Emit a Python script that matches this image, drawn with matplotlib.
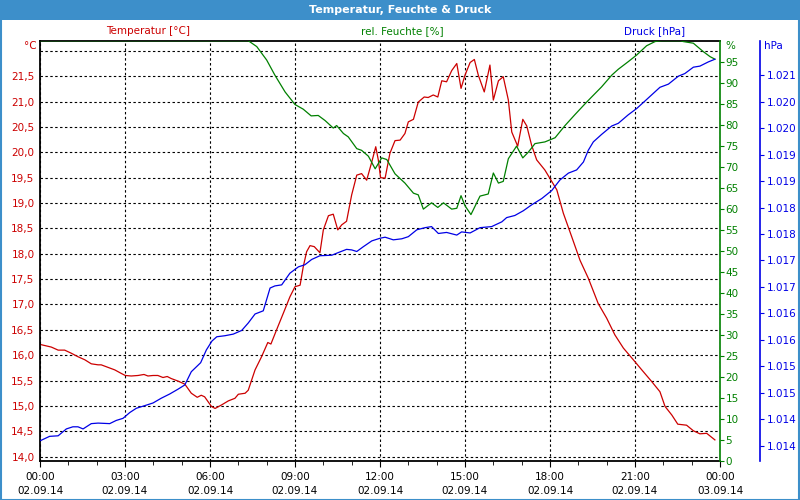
import matplotlib
matplotlib.use("Agg")
import matplotlib.pyplot as plt
import numpy as np
from matplotlib.ticker import FixedLocator, MultipleLocator, FuncFormatter
from matplotlib.patches import Rectangle

# Stunden seit 02.09.14 00:00
temp_h = [0.02, 0.40, 0.64, 0.87, 1.10, 1.34, 1.58, 1.81, 2.05, 2.16, 2.40, 2.64, 2.87, 3.01,
          3.22, 3.46, 3.67, 3.81, 3.99, 4.16, 4.34, 4.49, 4.63, 4.87, 5.11, 5.34, 5.55, 5.69,
          5.81, 6.05, 6.18, 6.41, 6.65, 6.88, 7.00, 7.24, 7.35, 7.59, 7.82, 8.04, 8.15, 8.35,
          8.59, 8.82, 9.00, 9.18, 9.29, 9.41, 9.53, 9.68, 9.88, 10.00, 10.18, 10.35, 10.51,
          10.65, 10.82, 11.00, 11.18, 11.35, 11.53, 11.71, 11.85, 11.94, 12.02, 12.18, 12.35,
          12.53, 12.71, 12.88, 13.00, 13.18, 13.35, 13.56, 13.70, 13.88, 14.04, 14.18, 14.35,
          14.53, 14.71, 14.86, 15.00, 15.18, 15.33, 15.47, 15.68, 15.88, 16.00, 16.18, 16.35,
          16.53, 16.65, 16.86, 17.04, 17.18, 17.35, 17.53, 17.82, 18.24, 18.47, 18.77, 19.06,
          19.35, 19.70, 20.00, 20.29, 20.59, 20.94, 21.24, 21.59, 21.88, 22.06, 22.30, 22.51,
          22.82, 23.06, 23.29, 23.53, 23.82]
temp_c = [16.21, 16.16, 16.10, 16.10, 16.04, 15.97, 15.91, 15.83, 15.81, 15.81, 15.76, 15.71,
          15.64, 15.60, 15.59, 15.60, 15.62, 15.59, 15.60, 15.60, 15.56, 15.58, 15.54, 15.49,
          15.43, 15.25, 15.17, 15.21, 15.18, 14.99, 14.95, 15.02, 15.10, 15.15, 15.23, 15.25,
          15.31, 15.71, 15.97, 16.25, 16.22, 16.50, 16.83, 17.15, 17.35, 17.38, 17.74, 18.04,
          18.16, 18.14, 18.02, 18.47, 18.75, 18.78, 18.47, 18.57, 18.64, 19.16, 19.55, 19.58,
          19.45, 19.81, 20.11, 19.85, 19.50, 19.49, 19.98, 20.23, 20.24, 20.37, 20.60, 20.65,
          20.99, 21.09, 21.08, 21.13, 21.09, 21.41, 21.39, 21.61, 21.75, 21.26, 21.52, 21.77,
          21.83, 21.52, 21.19, 21.72, 21.03, 21.41, 21.49, 21.03, 20.40, 20.12, 20.65, 20.52,
          20.14, 19.85, 19.65, 19.26, 18.80, 18.33, 17.87, 17.52, 17.02, 16.73, 16.40, 16.14,
          15.91, 15.71, 15.48, 15.28, 14.99, 14.82, 14.64, 14.62, 14.51, 14.45, 14.46, 14.33]

hum_h = [0.02, 7.35, 7.65, 8.00, 8.29, 8.65, 9.00, 9.29, 9.57, 9.82, 10.06, 10.35, 10.47,
         10.71, 10.88, 11.18, 11.35, 11.59, 11.83, 12.06, 12.24, 12.53, 12.88, 13.18, 13.35,
         13.53, 13.82, 14.04, 14.24, 14.53, 14.71, 14.86, 15.00, 15.21, 15.53, 15.82, 16.00,
         16.18, 16.35, 16.53, 16.82, 17.04, 17.24, 17.47, 17.82, 18.18, 18.53, 18.88, 19.24,
         19.47, 19.82, 20.18, 20.41, 20.76, 21.06, 21.41, 21.71, 21.94, 22.60, 22.70, 23.06,
         23.41, 23.65, 23.82]
hum_pct = [100, 100, 98.6, 95.4, 91.8, 87.8, 84.8, 83.7, 82.1, 82.2, 81.0, 79.2, 79.8,
           77.9, 77.1, 74.3, 73.9, 72.5, 69.5, 72.1, 71.7, 68.3, 66.1, 63.7, 63.3,
           59.9, 61.4, 60.3, 61.4, 59.9, 60.1, 63.1, 60.7, 58.6, 63.0, 63.5, 68.5,
           66.1, 66.5, 71.9, 74.9, 72.1, 73.5, 75.5, 75.9, 76.9, 79.8, 82.4, 85.0,
           86.6, 89.0, 91.8, 93.2, 95.0, 96.6, 98.8, 99.8, 100, 100, 99.8, 99.4,
           97.4, 96.2, 95.6]

press_h = [0.02, 0.34, 0.64, 0.93, 1.16, 1.34, 1.52, 1.81, 2.05, 2.46, 2.69, 2.93, 3.17, 3.40,
           3.70, 3.99, 4.28, 4.58, 4.87, 5.11, 5.34, 5.67, 5.87, 6.07, 6.24, 6.53, 6.82, 7.12,
           7.35, 7.59, 7.88, 8.12, 8.29, 8.53, 8.82, 9.12, 9.35, 9.59, 9.88, 10.30, 10.53,
           10.82, 11.00, 11.18, 11.41, 11.71, 12.00, 12.18, 12.47, 12.77, 13.00, 13.30, 13.59,
           13.82, 14.06, 14.35, 14.71, 14.88, 15.18, 15.53, 15.94, 16.30, 16.47, 16.76, 17.06,
           17.35, 17.71, 18.06, 18.35, 18.65, 18.94, 19.18, 19.35, 19.53, 19.82, 20.18, 20.41,
           20.76, 21.06, 21.41, 21.88, 22.18, 22.53, 22.76, 23.06, 23.29, 23.59, 23.82]
press_hpa = [1014.10, 1014.18, 1014.19, 1014.32, 1014.36, 1014.36, 1014.32, 1014.42, 1014.43,
             1014.42, 1014.48, 1014.52, 1014.63, 1014.71, 1014.76, 1014.81, 1014.90, 1014.98,
             1015.07, 1015.15, 1015.40, 1015.57, 1015.81, 1015.98, 1016.06, 1016.08, 1016.11,
             1016.18, 1016.32, 1016.49, 1016.55, 1016.98, 1017.02, 1017.04, 1017.26, 1017.38,
             1017.42, 1017.52, 1017.59, 1017.60, 1017.65, 1017.71, 1017.70, 1017.67, 1017.76,
             1017.87, 1017.92, 1017.94, 1017.89, 1017.91, 1017.95, 1018.08, 1018.12, 1018.14,
             1018.01, 1018.03, 1017.98, 1018.04, 1018.02, 1018.12, 1018.14, 1018.23, 1018.31,
             1018.35, 1018.44, 1018.55, 1018.67, 1018.82, 1019.02, 1019.15, 1019.21, 1019.36,
             1019.58, 1019.74, 1019.88, 1020.04, 1020.09, 1020.25, 1020.37, 1020.54, 1020.77,
             1020.83, 1020.98, 1021.03, 1021.15, 1021.17, 1021.25, 1021.30]

x_ticks = [0, 3, 6, 9, 12, 15, 18, 21, 24]
x_labels = ["00:00\n02.09.14", "03:00\n02.09.14", "06:00\n02.09.14", "09:00\n02.09.14",
            "12:00\n02.09.14", "15:00\n02.09.14", "18:00\n02.09.14", "21:00\n02.09.14",
            "00:00\n03.09.14"]
temp_ticks = list(np.arange(14.0, 22.01, 0.5))
hum_ticks = list(range(0, 100, 5))
press_ticks = list(np.arange(1014.0, 1021.01, 0.5))

RED = "#cc0000"
GREEN = "#008000"
BLUE = "#0000e6"
FONT = "DejaVu Sans"
FS = 7.5

plt.rcParams['font.family'] = FONT

fig = plt.figure(figsize=(8, 5), dpi=100, facecolor="white")
W, H = 800.0, 500.0
ax = fig.add_axes([40 / W, 1 - 460.7 / H, 680 / W, 420 / H])

# Titelleiste + Rahmen
fig.patches.append(Rectangle((0, 1 - 20 / H), 1, 20 / H, transform=fig.transFigure,
                             facecolor="#3d8fca", edgecolor="none", zorder=0))
fig.patches.append(Rectangle((0.5 / W, 0.5 / H), 1 - 1.5 / W, 1 - 1 / H, transform=fig.transFigure,
                             facecolor="none", edgecolor="#3d8fca", lw=1.5, zorder=0))
fig.text(0.5, 1 - 10 / H, "Temperatur, Feuchte & Druck", color="white", fontsize=8,
         fontweight="bold", ha="center", va="center")

# Temperatur
ax.plot(temp_h, temp_c, color=RED, lw=0.9, zorder=3)
ax.set_xlim(0, 24)
ax.set_ylim(13.92, 22.2)
ax.yaxis.set_major_locator(FixedLocator(temp_ticks))
ax.yaxis.set_major_formatter(FuncFormatter(
    lambda v, p: "" if v > 21.9 else f"{v:.1f}".replace(".", ",")))
ax.xaxis.set_major_locator(FixedLocator(x_ticks))
ax.set_xticklabels(x_labels)
ax.xaxis.set_minor_locator(MultipleLocator(1))
ax.tick_params(axis="y", length=0, pad=4, labelcolor=RED, labelsize=FS)
ax.tick_params(axis="x", which="major", length=4, direction="out", pad=4, labelsize=FS)
ax.tick_params(axis="x", which="minor", length=3, direction="out")
ax.grid(True, which="major", color="black", linestyle=(0, (2.2, 2.2)), lw=0.8)
for lab in ax.get_xticklabels():
    lab.set_linespacing(1.5)
ax.spines["right"].set_visible(False)
for s in ("left", "top", "bottom"):
    ax.spines[s].set_linewidth(1.3)
    ax.spines[s].set_zorder(5)

# Feuchte
ax2 = ax.twinx()
ax2.plot(hum_h, hum_pct, color=GREEN, lw=0.9)
ax2.set_ylim(0, 100)
ax2.yaxis.set_major_locator(FixedLocator(hum_ticks))
ax2.tick_params(axis="y", length=3, direction="out", pad=1, color=GREEN,
                labelcolor=GREEN, labelsize=FS)
for s in ("left", "top", "bottom"):
    ax2.spines[s].set_visible(False)
ax2.spines["right"].set_color(GREEN)
ax2.spines["right"].set_linewidth(1.2)

# Druck
ax3 = ax.twinx()
ax3.plot(press_h, press_hpa, color=BLUE, lw=0.9)
ax3.set_ylim(1013.72, 1021.65)
ax3.yaxis.set_major_locator(FixedLocator(press_ticks))
ax3.yaxis.set_major_formatter(FuncFormatter(
    lambda v, p: f"{int(np.floor(v + 1e-6)) // 1000}.{int(np.floor(v + 1e-6)) % 1000:03d}"))
ax3.tick_params(axis="y", length=3, direction="out", pad=2, color=BLUE,
                labelcolor=BLUE, labelsize=FS)
for s in ("left", "top", "bottom"):
    ax3.spines[s].set_visible(False)
ax3.spines["right"].set_position(("axes", 1 + 40 / 680))
ax3.spines["right"].set_color(BLUE)
ax3.spines["right"].set_linewidth(1.2)

# Beschriftungen
fig.text(148 / W, 1 - 31 / H, "Temperatur [°C]", color=RED, fontsize=FS, ha="center", va="center")
fig.text(402 / W, 1 - 31 / H, "rel. Feuchte [%]", color=GREEN, fontsize=FS, ha="center", va="center")
fig.text(655 / W, 1 - 31 / H, "Druck [hPa]", color=BLUE, fontsize=FS, ha="center", va="center")
fig.text(37 / W, 1 - 46 / H, "°C", color=RED, fontsize=FS, ha="right", va="center")
fig.text(725 / W, 1 - 46 / H, "%", color=GREEN, fontsize=FS, ha="left", va="center")
fig.text(764 / W, 1 - 46 / H, "hPa", color=BLUE, fontsize=FS, ha="left", va="center")

fig.savefig("out.png", dpi=100, facecolor="white")
